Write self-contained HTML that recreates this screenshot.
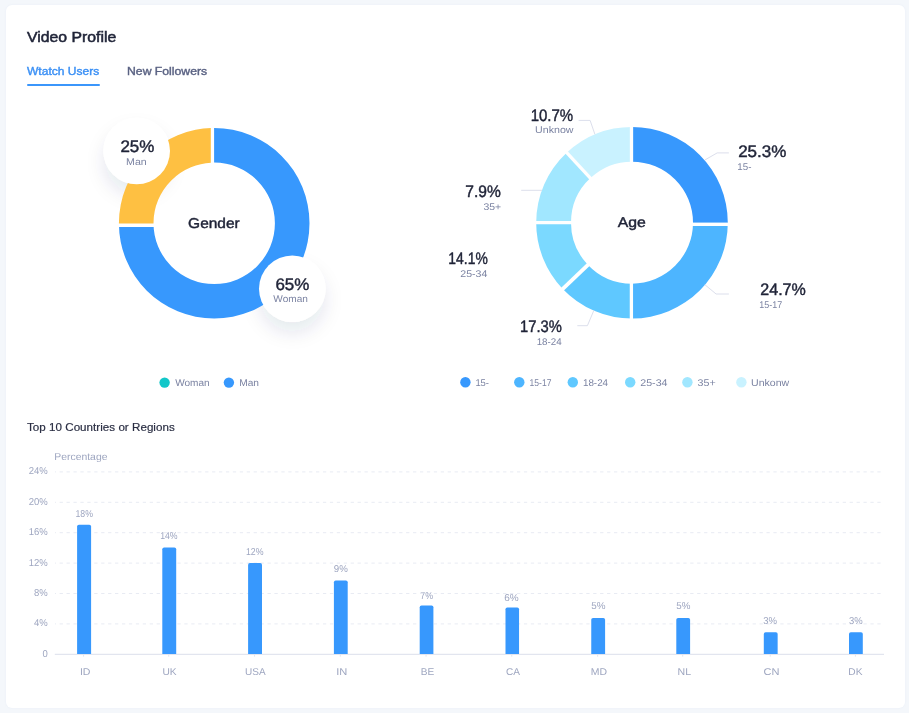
<!DOCTYPE html>
<html lang="en">
<head>
<meta charset="utf-8">
<title>Video Profile</title>
<style>
html,body{margin:0;padding:0}
body{width:909px;height:713px;background:#f4f7fb;font-family:'Liberation Sans', Arial, sans-serif;position:relative;overflow:hidden}
.card{position:absolute;left:5.7px;top:4.9px;width:899.4px;height:703px;background:#fff;border-radius:6px;box-shadow:0 0 2px rgba(190,205,230,0.22)}
.title{position:absolute;left:26.9px;top:28.2px;font-size:13.9px;line-height:18px;color:#1f2337;-webkit-text-stroke:0.5px #1f2337;white-space:nowrap;transform:scaleX(1.137);transform-origin:0 0}
.tabs{position:absolute;left:27.4px;top:63.4px;white-space:nowrap}
.tab{font-size:10.7px;line-height:16px;color:#5a6283;-webkit-text-stroke:0.38px #5a6283;position:absolute;top:0;left:0;padding-bottom:6.5px}
.tab span{display:inline-block;transform-origin:0 0;transform:scaleX(1.126)}
.tab + .tab{left:99.7px}
.tab + .tab span{transform:scaleX(1.144)}
.tab.on{color:#3b90f5;-webkit-text-stroke-color:#3b90f5;width:72.1px}
.tab.on::after{content:"";position:absolute;left:0;right:-0.5px;bottom:0;height:2px;border-radius:1px;background:#3b96fb}
.sub{position:absolute;left:27px;top:418.9px;font-size:11.6px;line-height:15px;color:#2a2e43;-webkit-text-stroke:0.2px #2a2e43;letter-spacing:0.03px;white-space:nowrap}
svg{position:absolute;left:0;top:0}
svg text{font-family:'Liberation Sans', Arial, sans-serif;text-rendering:geometricPrecision}
</style>
</head>
<body>
<div class="card"></div>
<div class="title">Video Profile</div>
<div class="tabs"><div class="tab on"><span>Wtatch Users</span></div><div class="tab"><span>New Followers</span></div></div>
<div class="sub">Top 10 Countries or Regions</div>
<svg width="909" height="713" viewBox="0 0 909 713">
<defs>
<clipPath id="cy"><rect x="100" y="100" width="110.8" height="123.5"/></clipPath>
<clipPath id="cb"><path d="M214.1 100H340V340H90V227H214.1Z"/></clipPath>
<filter id="sh" x="-50%" y="-50%" width="200%" height="200%"><feGaussianBlur in="SourceAlpha" stdDeviation="9"/><feOffset dx="0" dy="11" result="b"/><feFlood flood-color="#2a3560" flood-opacity="0.10"/><feComposite in2="b" operator="in"/><feMerge><feMergeNode/><feMergeNode in="SourceGraphic"/></feMerge></filter>
</defs>
<circle cx="136.7" cy="151.0" r="33.3" fill="#fff" filter="url(#sh)"/>
<circle cx="292.3" cy="288.7" r="33.3" fill="#fff" filter="url(#sh)"/>
<path fill-rule="evenodd" d="M118.89999999999999 223.3 a95.3 95.3 0 1 0 190.6 0 a95.3 95.3 0 1 0 -190.6 0 Z M153.5 223.3 a60.7 60.7 0 1 0 121.4 0 a60.7 60.7 0 1 0 -121.4 0 Z" fill="#3798fd" clip-path="url(#cb)"/>
<path fill-rule="evenodd" d="M118.89999999999999 223.3 a95.3 95.3 0 1 0 190.6 0 a95.3 95.3 0 1 0 -190.6 0 Z M153.5 223.3 a60.7 60.7 0 1 0 121.4 0 a60.7 60.7 0 1 0 -121.4 0 Z" fill="#fec042" clip-path="url(#cy)"/>
<text x="188.14" y="227.7" font-size="14.2" fill="#1f2337" stroke="#1f2337" stroke-width="0.45" stroke-linejoin="round" textLength="51.59" lengthAdjust="spacingAndGlyphs">Gender</text>
<circle cx="136.7" cy="151.0" r="33.3" fill="#fff"/>
<text x="120.42" y="151.65" font-size="16.6" fill="#1f2337" stroke="#1f2337" stroke-width="0.45" stroke-linejoin="round" textLength="33.97" lengthAdjust="spacingAndGlyphs">25%</text>
<text x="126.13" y="164.6" font-size="9.7" fill="#7b83a2" textLength="20.66" lengthAdjust="spacingAndGlyphs">Man</text>
<circle cx="292.3" cy="288.7" r="33.3" fill="#fff"/>
<text x="275.41" y="289.65" font-size="16.6" fill="#1f2337" stroke="#1f2337" stroke-width="0.45" stroke-linejoin="round" textLength="33.98" lengthAdjust="spacingAndGlyphs">65%</text>
<text x="273.31" y="302.4" font-size="9.7" fill="#7b83a2" textLength="34.55" lengthAdjust="spacingAndGlyphs">Woman</text>
<circle cx="164.6" cy="382.6" r="5.2" fill="#12c7c9"/>
<text x="175.16" y="385.8" font-size="9.8" fill="#7b83a2" textLength="34.49" lengthAdjust="spacingAndGlyphs">Woman</text>
<circle cx="228.9" cy="382.6" r="5.2" fill="#3798fd"/>
<text x="239.17" y="385.8" font-size="9.8" fill="#7b83a2" textLength="19.8" lengthAdjust="spacingAndGlyphs">Man</text>
<path d="M632.00 126.90 A95.8 95.8 0 0 1 727.80 222.70 L693.00 222.70 A61.0 61.0 0 0 0 632.00 161.70 Z" fill="#3798fd"/>
<path d="M727.80 222.70 A95.8 95.8 0 0 1 632.00 318.50 L632.00 283.70 A61.0 61.0 0 0 0 693.00 222.70 Z" fill="#4db5ff"/>
<path d="M632.00 318.50 A95.8 95.8 0 0 1 562.51 288.64 L587.75 264.69 A61.0 61.0 0 0 0 632.00 283.70 Z" fill="#5fc8ff"/>
<path d="M562.51 288.64 A95.8 95.8 0 0 1 536.20 222.70 L571.00 222.70 A61.0 61.0 0 0 0 587.75 264.69 Z" fill="#7bd9ff"/>
<path d="M536.20 222.70 A95.8 95.8 0 0 1 566.66 152.64 L590.40 178.09 A61.0 61.0 0 0 0 571.00 222.70 Z" fill="#a1e7ff"/>
<path d="M566.66 152.64 A95.8 95.8 0 0 1 632.00 126.90 L632.00 161.70 A61.0 61.0 0 0 0 590.40 178.09 Z" fill="#c9f2ff"/>
<line x1="631.50" y1="120.00" x2="631.50" y2="170.00" stroke="#fff" stroke-width="3.3"/>
<line x1="631.40" y1="275.00" x2="631.40" y2="325.00" stroke="#fff" stroke-width="3.3"/>
<line x1="685.00" y1="224.35" x2="735.00" y2="224.35" stroke="#fff" stroke-width="3.3"/>
<line x1="530.00" y1="222.60" x2="578.00" y2="222.60" stroke="#fff" stroke-width="3.3"/>
<line x1="590.83" y1="262.12" x2="559.91" y2="291.71" stroke="#fff" stroke-width="3.9"/>
<line x1="593.13" y1="181.01" x2="563.94" y2="149.71" stroke="#fff" stroke-width="3.3"/>
<text x="617.79" y="226.7" font-size="14.2" fill="#1f2337" stroke="#1f2337" stroke-width="0.45" stroke-linejoin="round" textLength="28.09" lengthAdjust="spacingAndGlyphs">Age</text>
<polyline points="578.6,120.4 590.1,120.4 594.9,134.3" fill="none" stroke="#dcdfec" stroke-width="1"/>
<polyline points="521.2,190.3 542,190.3" fill="none" stroke="#dcdfec" stroke-width="1"/>
<polyline points="577.3,325.7 587.4,325.7 593.9,310.3" fill="none" stroke="#dcdfec" stroke-width="1"/>
<polyline points="705.0,159.9 717.2,152.9 728.9,152.9" fill="none" stroke="#dcdfec" stroke-width="1"/>
<polyline points="704.8,284.6 716.1,294.0 728.9,294.0" fill="none" stroke="#dcdfec" stroke-width="1"/>
<text x="530.68" y="120.5" font-size="16.6" fill="#1f2337" stroke="#1f2337" stroke-width="0.45" stroke-linejoin="round" textLength="42.54" lengthAdjust="spacingAndGlyphs">10.7%</text>
<text x="535.08" y="133.3" font-size="9.7" fill="#7b83a2" textLength="38.39" lengthAdjust="spacingAndGlyphs">Unknow</text>
<text x="465.32" y="196.8" font-size="16.6" fill="#1f2337" stroke="#1f2337" stroke-width="0.45" stroke-linejoin="round" textLength="35.51" lengthAdjust="spacingAndGlyphs">7.9%</text>
<text x="483.5" y="209.6" font-size="9.7" fill="#7b83a2" textLength="17.71" lengthAdjust="spacingAndGlyphs">35+</text>
<text x="448.36" y="264.1" font-size="16.6" fill="#1f2337" stroke="#1f2337" stroke-width="0.45" stroke-linejoin="round" textLength="39.41" lengthAdjust="spacingAndGlyphs">14.1%</text>
<text x="460.27" y="277.4" font-size="9.7" fill="#7b83a2" textLength="27.04" lengthAdjust="spacingAndGlyphs">25-34</text>
<text x="520.0" y="331.8" font-size="16.6" fill="#1f2337" stroke="#1f2337" stroke-width="0.45" stroke-linejoin="round" textLength="41.81" lengthAdjust="spacingAndGlyphs">17.3%</text>
<text x="536.65" y="344.6" font-size="9.7" fill="#7b83a2" textLength="25.03" lengthAdjust="spacingAndGlyphs">18-24</text>
<text x="738.16" y="156.8" font-size="16.6" fill="#1f2337" stroke="#1f2337" stroke-width="0.45" stroke-linejoin="round" textLength="48.22" lengthAdjust="spacingAndGlyphs">25.3%</text>
<text x="737.31" y="169.75" font-size="9.7" fill="#7b83a2" textLength="14.13" lengthAdjust="spacingAndGlyphs">15-</text>
<text x="760.31" y="294.65" font-size="16.6" fill="#1f2337" stroke="#1f2337" stroke-width="0.45" stroke-linejoin="round" textLength="45.54" lengthAdjust="spacingAndGlyphs">24.7%</text>
<text x="759.37" y="307.75" font-size="9.7" fill="#7b83a2" textLength="22.88" lengthAdjust="spacingAndGlyphs">15-17</text>
<circle cx="465.4" cy="382.3" r="5.2" fill="#3798fd"/>
<text x="475.38" y="385.8" font-size="9.8" fill="#7b83a2" textLength="13.64" lengthAdjust="spacingAndGlyphs">15-</text>
<circle cx="519.3" cy="382.3" r="5.2" fill="#4db5ff"/>
<text x="529.55" y="385.8" font-size="9.8" fill="#7b83a2" textLength="21.88" lengthAdjust="spacingAndGlyphs">15-17</text>
<circle cx="572.8" cy="382.3" r="5.2" fill="#5fc8ff"/>
<text x="582.95" y="385.8" font-size="9.8" fill="#7b83a2" textLength="25.14" lengthAdjust="spacingAndGlyphs">18-24</text>
<circle cx="630.2" cy="382.3" r="5.2" fill="#7bd9ff"/>
<text x="640.26" y="385.8" font-size="9.8" fill="#7b83a2" textLength="27.25" lengthAdjust="spacingAndGlyphs">25-34</text>
<circle cx="687.4" cy="382.3" r="5.2" fill="#a1e7ff"/>
<text x="697.59" y="385.8" font-size="9.8" fill="#7b83a2" textLength="18.13" lengthAdjust="spacingAndGlyphs">35+</text>
<circle cx="741.4" cy="382.3" r="5.2" fill="#c9f2ff"/>
<text x="751.08" y="385.8" font-size="9.8" fill="#7b83a2" textLength="38.19" lengthAdjust="spacingAndGlyphs">Unkonw</text>
<text x="54.35" y="459.9" font-size="10" fill="#9ea6c0" textLength="53.11" lengthAdjust="spacingAndGlyphs">Percentage</text>
<text x="47.8" y="656.8" font-size="10" fill="#9ea6c0" text-anchor="end" textLength="5.28" lengthAdjust="spacingAndGlyphs">0</text>
<text x="47.8" y="626.4" font-size="10" fill="#9ea6c0" text-anchor="end" textLength="13.73" lengthAdjust="spacingAndGlyphs">4%</text>
<line x1="55" y1="623.9" x2="884" y2="623.9" stroke="#e8ebf3" stroke-width="1" stroke-dasharray="3.3 3.63" stroke-dashoffset="2.33"/>
<text x="47.8" y="596.0" font-size="10" fill="#9ea6c0" text-anchor="end" textLength="13.73" lengthAdjust="spacingAndGlyphs">8%</text>
<line x1="55" y1="593.5" x2="884" y2="593.5" stroke="#e8ebf3" stroke-width="1" stroke-dasharray="3.3 3.63" stroke-dashoffset="2.33"/>
<text x="47.8" y="565.6" font-size="10" fill="#9ea6c0" text-anchor="end" textLength="19.01" lengthAdjust="spacingAndGlyphs">12%</text>
<line x1="55" y1="563.1" x2="884" y2="563.1" stroke="#e8ebf3" stroke-width="1" stroke-dasharray="3.3 3.63" stroke-dashoffset="2.33"/>
<text x="47.8" y="535.2" font-size="10" fill="#9ea6c0" text-anchor="end" textLength="19.01" lengthAdjust="spacingAndGlyphs">16%</text>
<line x1="55" y1="532.7" x2="884" y2="532.7" stroke="#e8ebf3" stroke-width="1" stroke-dasharray="3.3 3.63" stroke-dashoffset="2.33"/>
<text x="47.8" y="504.8" font-size="10" fill="#9ea6c0" text-anchor="end" textLength="19.01" lengthAdjust="spacingAndGlyphs">20%</text>
<line x1="55" y1="502.3" x2="884" y2="502.3" stroke="#e8ebf3" stroke-width="1" stroke-dasharray="3.3 3.63" stroke-dashoffset="2.33"/>
<text x="47.8" y="474.4" font-size="10" fill="#9ea6c0" text-anchor="end" textLength="19.01" lengthAdjust="spacingAndGlyphs">24%</text>
<line x1="55" y1="471.9" x2="884" y2="471.9" stroke="#e8ebf3" stroke-width="1" stroke-dasharray="3.3 3.63" stroke-dashoffset="2.33"/>
<line x1="54.8" y1="654.3" x2="884" y2="654.3" stroke="#e2e5ef" stroke-width="1.3"/>
<line x1="83.60" y1="654.9" x2="83.60" y2="656.6999999999999" stroke="#e2e5ef" stroke-width="1"/>
<path d="M77.10 654.0 V526.5 Q77.10 524.7 78.90 524.7 H89.30 Q91.10 524.7 91.10 526.5 V654.0 Z" fill="#3798fd"/>
<text x="75.43" y="516.5" font-size="10" fill="#9ea6c0" textLength="17.48" lengthAdjust="spacingAndGlyphs">18%</text>
<text x="79.92" y="674.9" font-size="9.8" fill="#9ea6c0" textLength="10.58" lengthAdjust="spacingAndGlyphs">ID</text>
<line x1="168.75" y1="654.9" x2="168.75" y2="656.6999999999999" stroke="#e2e5ef" stroke-width="1"/>
<path d="M162.30 654.0 V549.2 Q162.30 547.4 164.10 547.4 H174.40 Q176.20 547.4 176.20 549.2 V654.0 Z" fill="#3798fd"/>
<text x="160.13" y="539.25" font-size="10" fill="#9ea6c0" textLength="17.48" lengthAdjust="spacingAndGlyphs">14%</text>
<text x="162.51" y="674.9" font-size="9.8" fill="#9ea6c0" textLength="14.2" lengthAdjust="spacingAndGlyphs">UK</text>
<line x1="254.55" y1="654.9" x2="254.55" y2="656.6999999999999" stroke="#e2e5ef" stroke-width="1"/>
<path d="M248.10 654.0 V564.9 Q248.10 563.1 249.90 563.1 H260.20 Q262.00 563.1 262.00 564.9 V654.0 Z" fill="#3798fd"/>
<text x="245.93" y="554.65" font-size="10" fill="#9ea6c0" textLength="17.58" lengthAdjust="spacingAndGlyphs">12%</text>
<text x="245.13" y="674.9" font-size="9.8" fill="#9ea6c0" textLength="20.59" lengthAdjust="spacingAndGlyphs">USA</text>
<line x1="340.30" y1="654.9" x2="340.30" y2="656.6999999999999" stroke="#e2e5ef" stroke-width="1"/>
<path d="M333.90 654.0 V582.2 Q333.90 580.4 335.70 580.4 H345.90 Q347.70 580.4 347.70 582.2 V654.0 Z" fill="#3798fd"/>
<text x="333.75" y="572.25" font-size="10" fill="#9ea6c0" textLength="14.0" lengthAdjust="spacingAndGlyphs">9%</text>
<text x="336.17" y="674.9" font-size="9.8" fill="#9ea6c0" textLength="11.14" lengthAdjust="spacingAndGlyphs">IN</text>
<line x1="426.05" y1="654.9" x2="426.05" y2="656.6999999999999" stroke="#e2e5ef" stroke-width="1"/>
<path d="M419.70 654.0 V607.2 Q419.70 605.4 421.50 605.4 H431.60 Q433.40 605.4 433.40 607.2 V654.0 Z" fill="#3798fd"/>
<text x="420.35" y="598.8" font-size="10" fill="#9ea6c0" textLength="12.77" lengthAdjust="spacingAndGlyphs">7%</text>
<text x="420.82" y="674.9" font-size="9.8" fill="#9ea6c0" textLength="13.52" lengthAdjust="spacingAndGlyphs">BE</text>
<line x1="511.77" y1="654.9" x2="511.77" y2="656.6999999999999" stroke="#e2e5ef" stroke-width="1"/>
<path d="M505.50 654.0 V609.2 Q505.50 607.4 507.30 607.4 H517.25 Q519.05 607.4 519.05 609.2 V654.0 Z" fill="#3798fd"/>
<text x="504.19" y="600.8" font-size="10" fill="#9ea6c0" textLength="14.46" lengthAdjust="spacingAndGlyphs">6%</text>
<text x="505.99" y="674.9" font-size="9.8" fill="#9ea6c0" textLength="14.03" lengthAdjust="spacingAndGlyphs">CA</text>
<line x1="597.67" y1="654.9" x2="597.67" y2="656.6999999999999" stroke="#e2e5ef" stroke-width="1"/>
<path d="M591.25 654.0 V619.8 Q591.25 618.0 593.05 618.0 H603.30 Q605.10 618.0 605.10 619.8 V654.0 Z" fill="#3798fd"/>
<text x="591.21" y="609.25" font-size="10" fill="#9ea6c0" textLength="14.25" lengthAdjust="spacingAndGlyphs">5%</text>
<text x="590.74" y="674.9" font-size="9.8" fill="#9ea6c0" textLength="16.26" lengthAdjust="spacingAndGlyphs">MD</text>
<line x1="682.70" y1="654.9" x2="682.70" y2="656.6999999999999" stroke="#e2e5ef" stroke-width="1"/>
<path d="M676.30 654.0 V619.8 Q676.30 618.0 678.10 618.0 H688.30 Q690.10 618.0 690.10 619.8 V654.0 Z" fill="#3798fd"/>
<text x="676.31" y="609.25" font-size="10" fill="#9ea6c0" textLength="14.14" lengthAdjust="spacingAndGlyphs">5%</text>
<text x="677.63" y="674.9" font-size="9.8" fill="#9ea6c0" textLength="13.52" lengthAdjust="spacingAndGlyphs">NL</text>
<line x1="770.22" y1="654.9" x2="770.22" y2="656.6999999999999" stroke="#e2e5ef" stroke-width="1"/>
<path d="M763.80 654.0 V634.1 Q763.80 632.3 765.60 632.3 H775.85 Q777.65 632.3 777.65 634.1 V654.0 Z" fill="#3798fd"/>
<text x="763.14" y="624.2" font-size="10" fill="#9ea6c0" textLength="13.8" lengthAdjust="spacingAndGlyphs">3%</text>
<text x="763.44" y="674.9" font-size="9.8" fill="#9ea6c0" textLength="15.96" lengthAdjust="spacingAndGlyphs">CN</text>
<line x1="855.40" y1="654.9" x2="855.40" y2="656.6999999999999" stroke="#e2e5ef" stroke-width="1"/>
<path d="M849.00 654.0 V634.1 Q849.00 632.3 850.80 632.3 H861.00 Q862.80 632.3 862.80 634.1 V654.0 Z" fill="#3798fd"/>
<text x="849.04" y="624.2" font-size="10" fill="#9ea6c0" textLength="13.7" lengthAdjust="spacingAndGlyphs">3%</text>
<text x="848.36" y="674.9" font-size="9.8" fill="#9ea6c0" textLength="14.15" lengthAdjust="spacingAndGlyphs">DK</text>
</svg>
</body>
</html>
